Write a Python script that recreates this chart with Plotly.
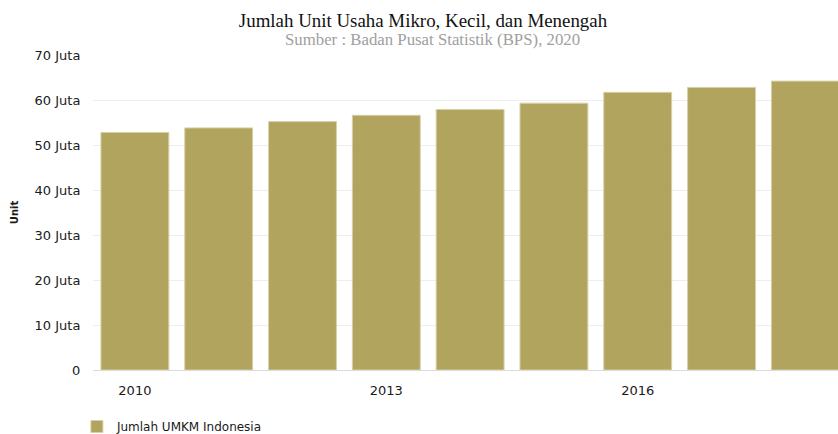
import plotly.graph_objects as go

years = [2010, 2011, 2012, 2013, 2014, 2015, 2016, 2017, 2018]
umkm_juta = [52.8, 53.8, 55.2, 56.6, 57.9, 59.3, 61.7, 62.8, 64.2]
series_name = "Jumlah UMKM Indonesia"
y_tick_vals = [0, 10, 20, 30, 40, 50, 60, 70]
y_tick_text = ["0", "10 Juta", "20 Juta", "30 Juta", "40 Juta", "50 Juta", "60 Juta", "70 Juta"]
x_tick_vals = [2010, 2013, 2016]

title_text = "Jumlah Unit Usaha Mikro, Kecil, dan Menengah"
subtitle_text = "Sumber : Badan Pusat Statistik (BPS), 2020"

values = [v * 1_000_000 for v in umkm_juta]

fig = go.Figure()
fig.add_trace(go.Bar(
    x=years,
    y=values,
    name=series_name,
    marker=dict(color="#b0a45e", line=dict(color="#d8d0a8", width=1)),
    showlegend=True,
))

fig.update_layout(
    width=838,
    height=434,
    margin=dict(l=93, r=0, t=55, b=64, autoexpand=False),
    paper_bgcolor="white",
    plot_bgcolor="white",
    bargap=0.19,
    font=dict(family="DejaVu Sans, Verdana, sans-serif", size=13, color="#222"),
    title=dict(
        text=title_text,
        x=423 / 838, xanchor="center", xref="container",
        y=1 - 20 / 434, yanchor="middle", yref="container",
        font=dict(family="Liberation Serif, Times New Roman, serif", size=18.9, color="#111"),
    ),
    annotations=[dict(
        text=subtitle_text,
        xref="paper", yref="paper",
        x=(432 - 93) / 745, y=1 + (55 - 40) / 315,
        xanchor="center", yanchor="middle", showarrow=False,
        font=dict(family="Liberation Serif, Times New Roman, serif", size=16.8, color="#a0a0a0"),
    )],
    xaxis=dict(
        range=[2009.5, 2018.39],
        tickvals=x_tick_vals,
        ticks="outside", ticklen=0,
        ticklabelstandoff=8,
        showgrid=False,
        showline=True, linecolor="#dcdcdc", linewidth=1,
        zeroline=False,
        tickfont=dict(size=13, color="#1a1a1a"),
    ),
    yaxis=dict(
        range=[0, 70_000_000],
        tickvals=[v * 1_000_000 for v in y_tick_vals],
        ticktext=y_tick_text,
        ticks="outside", ticklen=0,
        ticklabelstandoff=9,
        showgrid=True, gridcolor="#eeeeee", gridwidth=1,
        zeroline=False,
        title=dict(text="<b>Unit</b>", font=dict(size=10, color="#1a1a1a"), standoff=14),
        tickfont=dict(size=13, color="#1a1a1a"),
    ),
    legend=dict(
        orientation="h",
        x=-0.0216, xanchor="left",
        yref="container",
        y=(434 - 412) / 434, yanchor="top",
        font=dict(size=12, color="#1a1a1a"),
        itemwidth=30,
        bgcolor="rgba(0,0,0,0)",
    ),
)

fig.write_html("out.html")
